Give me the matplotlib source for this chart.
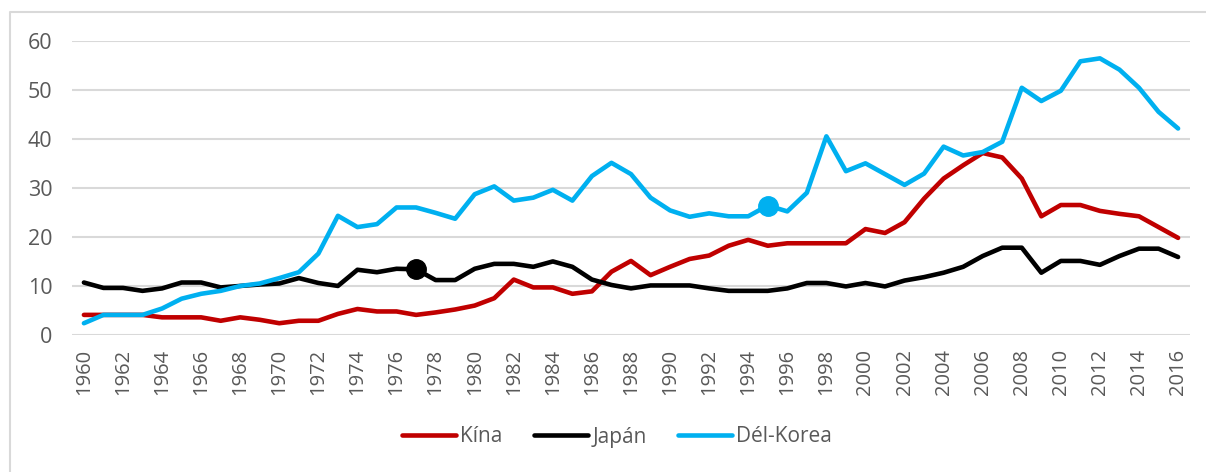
import matplotlib
matplotlib.use("Agg")
import matplotlib.pyplot as plt
from matplotlib.lines import Line2D

# évek és sorozatok
evek = list(range(1960, 2017))

kina = [4.1, 4.1, 4.1, 4.1, 3.6, 3.6, 3.6, 2.9, 3.6, 3.1,
        2.4, 2.9, 2.9, 4.3, 5.3, 4.8, 4.8, 4.1, 4.6, 5.2,
        6.0, 7.5, 11.3, 9.7, 9.7, 8.4, 8.9, 12.9, 15.1, 12.2,
        13.9, 15.5, 16.2, 18.2, 19.4, 18.2, 18.7, 18.7, 18.7, 18.7,
        21.6, 20.8, 23.0, 27.8, 31.9, 34.6, 37.1, 36.2, 31.9, 24.2,
        26.5, 26.5, 25.3, 24.7, 24.2, 22.0, 19.8]

japan = [10.7, 9.6, 9.6, 9.0, 9.5, 10.7, 10.7, 9.7, 10.0, 10.3,
         10.5, 11.6, 10.6, 10.0, 13.3, 12.8, 13.5, 13.4, 11.2, 11.2,
         13.5, 14.5, 14.5, 13.9, 15.0, 13.9, 11.3, 10.2, 9.5, 10.1,
         10.1, 10.1, 9.5, 9.0, 9.0, 9.0, 9.5, 10.6, 10.6, 9.9,
         10.6, 9.9, 11.1, 11.8, 12.7, 13.9, 16.1, 17.8, 17.8, 12.7,
         15.1, 15.1, 14.3, 16.1, 17.6, 17.6, 15.9]

del_korea = [2.4, 4.1, 4.1, 4.1, 5.4, 7.4, 8.4, 9.0, 10.0, 10.5,
             11.6, 12.8, 16.6, 24.3, 22.0, 22.6, 26.0, 26.0, 24.9, 23.7,
             28.7, 30.3, 27.4, 28.0, 29.6, 27.4, 32.4, 35.1, 32.8, 28.0,
             25.4, 24.1, 24.8, 24.2, 24.2, 26.4, 25.2, 29.0, 40.5, 33.4,
             35.0, 32.8, 30.6, 32.9, 38.4, 36.6, 37.3, 39.4, 50.4, 47.7,
             49.8, 55.8, 56.4, 54.1, 50.4, 45.5, 42.1]

# kiemelt pontok
japan_pont_ev = 1977
korea_pont_ev = 1995

nevek = ["Kína", "Japán", "Dél-Korea"]
szinek = ["#C00000", "#000000", "#00B0F0"]
szurke = "#595959"

plt.rcParams['font.family'] = ['Open Sans', 'DejaVu Sans']

fig = plt.figure(figsize=(12.06, 4.72), dpi=100)
ax = fig.add_axes([72 / 1206, 1 - 335 / 472, (1190 - 72) / 1206, (335 - 40.7) / 472])

for adat, nev, szin in zip([kina, japan, del_korea], nevek, szinek):
    ax.plot(evek, adat, color=szin, lw=3.3, label=nev, solid_capstyle='round', zorder=3)

ax.plot([japan_pont_ev], [japan[evek.index(japan_pont_ev)]], 'o', color=szinek[1],
        markersize=14, zorder=4)
ax.plot([korea_pont_ev], [del_korea[evek.index(korea_pont_ev)]], 'o', color=szinek[2],
        markersize=14, zorder=4)

ax.set_ylim(0, 60)
ax.set_xlim(1959.39, 2016.61)
ax.set_yticks(range(0, 61, 10))
ax.set_xticks(evek[::2])
ax.set_xticklabels([str(e) for e in evek[::2]], rotation=90)

ax.grid(axis='y', color='#D9D9D9', lw=1.5, zorder=0)
ax.grid(axis='x', visible=False)
for s in ax.spines.values():
    s.set_visible(False)
ax.tick_params(axis='both', length=0, colors=szurke)
ax.tick_params(axis='y', pad=14, labelsize=15.5)
ax.tick_params(axis='x', pad=10, labelsize=14.5)

fig.legend(loc='center', bbox_to_anchor=(0.5116, 1 - 437 / 472), ncol=3, frameon=False,
           fontsize=15, labelcolor=szurke, handlelength=2.6, handletextpad=0.2,
           columnspacing=1.5)

# külső keret (bal és felső él látszik)
x0 = 10 / 1206
y0 = 1 - 12 / 472
fig.add_artist(Line2D([x0, x0, 1.0], [0.0, y0, y0], transform=fig.transFigure,
                      color='#D9D9D9', lw=1.5))

fig.savefig("out.png", dpi=100)
